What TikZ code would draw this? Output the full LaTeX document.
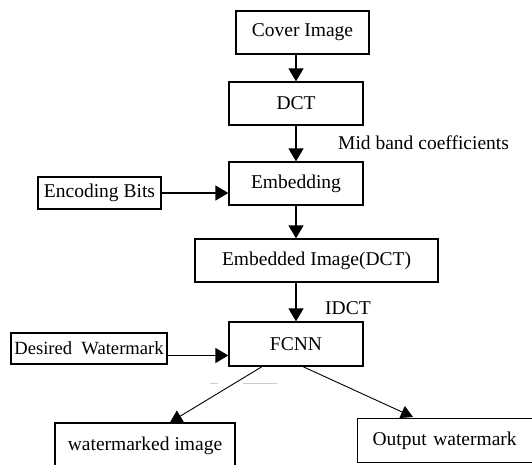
\documentclass[tikz,border=0pt]{standalone}
\usepackage{fontspec}
\setmainfont{Liberation Serif}
\usetikzlibrary{arrows.meta,calc}
\begin{document}
\begin{tikzpicture}[x=1pt,y=-1pt,
  box/.style={draw, line width=1.3pt, inner sep=0pt, font=\fontsize{19.5}{23}\selectfont},
  lbl/.style={inner sep=0pt, font=\fontsize{19.5}{23}\selectfont},
  flow/.style={line width=1.4pt, -{Triangle[width=15pt,length=13pt]}},
  thin/.style={line width=0.9pt, -{Triangle[width=13pt,length=12pt]}}]
\useasboundingbox (0,0) rectangle (532,465);
\node[box, minimum width=133pt, minimum height=43pt] (cover) at (302.5,32.5) {Cover Image};
\node[box, minimum width=134pt, minimum height=43pt] (dct) at (296,103.5) {DCT};
\node[box, minimum width=134pt, minimum height=43pt] (emb) at (296,183.5) {Embedding};
\node[box, minimum width=123pt, minimum height=32pt] (enc) at (99.5,193) {Encoding Bits};
\node[box, minimum width=243pt, minimum height=43pt] (embimg) at (316.5,260.5) {Embedded Image(DCT)};
\node[box, minimum width=134pt, minimum height=44pt] (fcnn) at (296,344) {FCNN};
\node[box, minimum width=156pt, minimum height=31pt, font=\fontsize{18.6}{22}\selectfont] (des) at (89,348.5) {Desired\ \ Watermark};
\node[box, minimum width=180pt, minimum height=45pt] (wimg) at (145,445.5) {watermarked image};
\node[box, anchor=north west, text width=150pt, inner xsep=15pt, minimum height=44pt, align=left] (owm) at (357,418) {Output watermark};
\node[lbl, anchor=west] (mid) at (338,143) {Mid band coefficients};
\node[lbl, anchor=west] (idct) at (325,308) {IDCT};
\coordinate (desout) at ([yshift=-7pt]des.east);
\coordinate (wtip) at ([xshift=25pt]wimg.north);
\coordinate (otip) at ([xshift=56pt,yshift=1pt]owm.north west);
\draw[flow] (dct.north |- cover.south) -- (dct.north);
\draw[flow] (dct.south) -- (emb.north);
\draw[flow] (emb.south) -- (emb.south |- embimg.north);
\draw[flow] (fcnn.north |- embimg.south) -- (fcnn.north);
\draw[flow] (enc.east) -- (emb.west |- enc.east);
\draw[flow] (desout) -- (fcnn.west |- desout);
\draw[thin] ([xshift=-34pt]fcnn.south) -- (wtip);
\draw[thin] ([xshift=7pt]fcnn.south) -- (otip);
\draw[gray!40, line width=0.8pt] (210,383) -- (218,383) (243,383) -- (277,383);
\end{tikzpicture}
\end{document}
